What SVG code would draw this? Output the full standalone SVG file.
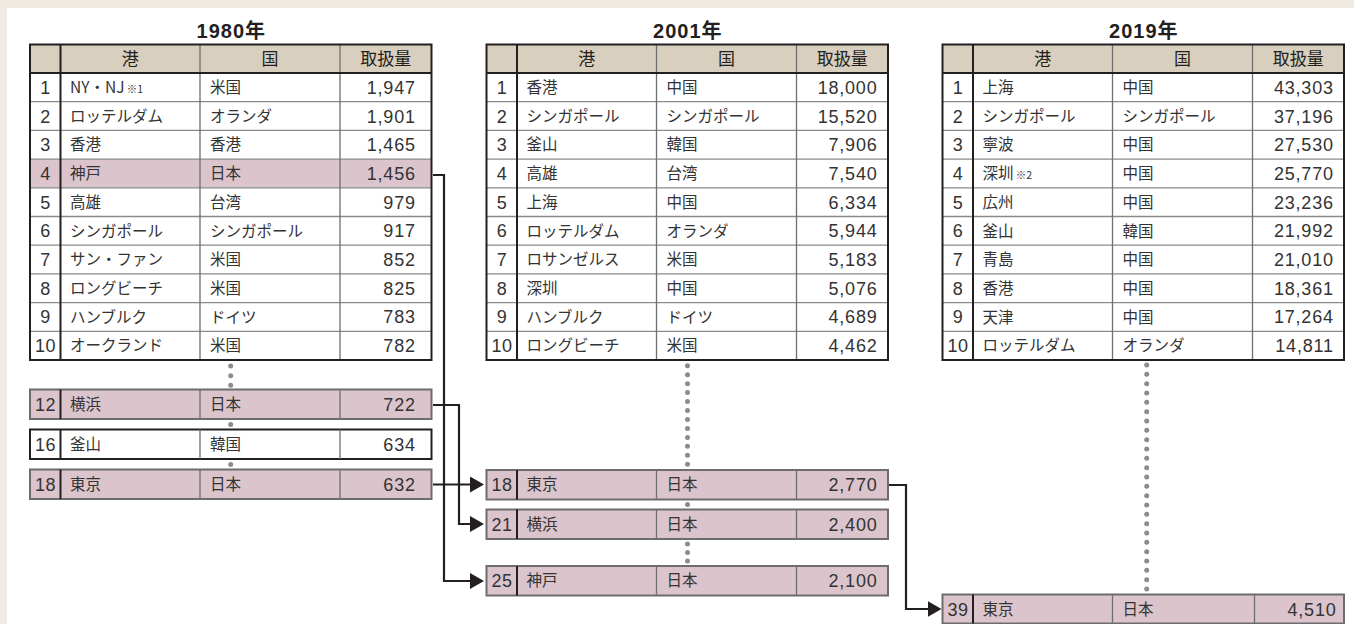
<svg xmlns="http://www.w3.org/2000/svg" width="1354" height="624" viewBox="0 0 1354 624">
<defs>
<style>
.bg{fill:#efebe2}
.panel{fill:#ffffff}
.hdr{fill:#d9cfbf}
.pk{fill:#dbc4cb}
.rl{stroke:#8a8a8a;stroke-width:1.3;fill:none}
.cl{stroke:#6f6f6f;stroke-width:1.3;fill:none}
.dk{stroke:#231f20;stroke-width:2;fill:none}
.frame{fill:none;stroke:#231f20;stroke-width:2}
.pbox{fill:#dbc4cb;stroke:#6d6d6d;stroke-width:2}
.wbox{fill:#ffffff;stroke:#231f20;stroke-width:2}
.ttl{font-family:"Liberation Sans","Noto Sans CJK JP",sans-serif;font-weight:bold;font-size:20px;letter-spacing:1px;fill:#231f20;text-anchor:middle}
.h{font-family:"Noto Sans CJK JP",sans-serif;font-size:17px;fill:#231f20;text-anchor:middle}
.t{font-family:"Noto Sans CJK JP",sans-serif;font-size:15.5px;fill:#333333}
.s{font-size:10.5px}
.n{font-family:"Liberation Sans",sans-serif;font-size:18px;letter-spacing:0.8px;fill:#333333;text-anchor:end}
.r{font-family:"Liberation Sans",sans-serif;font-size:18px;letter-spacing:0.5px;fill:#333333;text-anchor:middle}
.dots{stroke:#8c8c8c;stroke-width:5;stroke-linecap:round;fill:none}
.dot{fill:#8c8c8c}
.con{stroke:#231f20;stroke-width:2.2;fill:none}
</style>
<marker id="ah" markerUnits="userSpaceOnUse" markerWidth="15" markerHeight="16" refX="7" refY="8" orient="auto"><path d="M0,0 L14,8 L0,16 z" fill="#231f20"/></marker>
</defs>

<rect class="bg" x="0" y="0" width="1354" height="624"/>
<rect class="panel" x="7" y="8" width="1347" height="616"/>

<!-- 1980 table -->
<g id="table-1980" transform="translate(30,0)">
<text class="ttl" x="201.3" y="38">1980年</text>
<rect class="hdr" x="0" y="44.5" width="401.5" height="28.5"/>
<rect class="pk" x="0" y="159.1" width="401.5" height="28.7"/>
<path class="rl" d="M0,101.7H401.5M0,130.4H401.5M0,159.1H401.5M0,187.8H401.5M0,216.5H401.5M0,245.2H401.5M0,273.9H401.5M0,302.6H401.5M0,331.3H401.5"/>
<path class="cl" d="M170,44.5V360M310,44.5V360"/>
<path class="dk" d="M0,73H401.5M30.5,44.5V360"/>
<rect class="frame" x="0" y="44.5" width="401.5" height="315.5"/>
<text class="h" x="100.25" y="65">港</text>
<text class="h" x="240" y="65">国</text>
<text class="h" x="355.75" y="65">取扱量</text>
<text class="r" x="15.5" y="93.8">1</text><text class="t" x="40" y="93">NY・NJ<tspan class="s"> ※1</tspan></text><text class="t" x="180" y="93">米国</text><text class="n" x="385.8" y="93.8">1,947</text>
<text class="r" x="15.5" y="122.5">2</text><text class="t" x="40" y="121.7">ロッテルダム</text><text class="t" x="180" y="121.7">オランダ</text><text class="n" x="385.8" y="122.5">1,901</text>
<text class="r" x="15.5" y="151.2">3</text><text class="t" x="40" y="150.4">香港</text><text class="t" x="180" y="150.4">香港</text><text class="n" x="385.8" y="151.2">1,465</text>
<text class="r" x="15.5" y="179.9">4</text><text class="t" x="40" y="179.1">神戸</text><text class="t" x="180" y="179.1">日本</text><text class="n" x="385.8" y="179.9">1,456</text>
<text class="r" x="15.5" y="208.6">5</text><text class="t" x="40" y="207.8">高雄</text><text class="t" x="180" y="207.8">台湾</text><text class="n" x="385.8" y="208.6">979</text>
<text class="r" x="15.5" y="237.3">6</text><text class="t" x="40" y="236.5">シンガポール</text><text class="t" x="180" y="236.5">シンガポール</text><text class="n" x="385.8" y="237.3">917</text>
<text class="r" x="15.5" y="266">7</text><text class="t" x="40" y="265.2">サン・ファン</text><text class="t" x="180" y="265.2">米国</text><text class="n" x="385.8" y="266">852</text>
<text class="r" x="15.5" y="294.7">8</text><text class="t" x="40" y="293.9">ロングビーチ</text><text class="t" x="180" y="293.9">米国</text><text class="n" x="385.8" y="294.7">825</text>
<text class="r" x="15.5" y="323.4">9</text><text class="t" x="40" y="322.6">ハンブルク</text><text class="t" x="180" y="322.6">ドイツ</text><text class="n" x="385.8" y="323.4">783</text>
<text class="r" x="15.5" y="352.1">10</text><text class="t" x="40" y="351.3">オークランド</text><text class="t" x="180" y="351.3">米国</text><text class="n" x="385.8" y="352.1">782</text>
</g>

<g id="box-1980-12" transform="translate(30,389.5)">
<rect class="pbox" x="0" y="0" width="401.5" height="29.5"/>
<path class="cl" d="M170,0V29.5M310,0V29.5"/><path class="dk" d="M30.5,0V29.5"/>
<text class="r" x="15.5" y="21.2">12</text><text class="t" x="40" y="20.4">横浜</text><text class="t" x="180" y="20.4">日本</text><text class="n" x="385.8" y="21.2">722</text>
</g>
<g id="box-1980-16" transform="translate(30,429.5)">
<rect class="wbox" x="0" y="0" width="401.5" height="29.5"/>
<path class="cl" d="M170,0V29.5M310,0V29.5"/><path class="dk" d="M30.5,0V29.5"/>
<text class="r" x="15.5" y="21.2">16</text><text class="t" x="40" y="20.4">釜山</text><text class="t" x="180" y="20.4">韓国</text><text class="n" x="385.8" y="21.2">634</text>
</g>
<g id="box-1980-18" transform="translate(30,469.5)">
<rect class="pbox" x="0" y="0" width="401.5" height="29.5"/>
<path class="cl" d="M170,0V29.5M310,0V29.5"/><path class="dk" d="M30.5,0V29.5"/>
<text class="r" x="15.5" y="21.2">18</text><text class="t" x="40" y="20.4">東京</text><text class="t" x="180" y="20.4">日本</text><text class="n" x="385.8" y="21.2">632</text>
</g>

<!-- 2001 table -->
<g id="table-2001" transform="translate(486.5,0)">
<text class="ttl" x="201.3" y="38">2001年</text>
<rect class="hdr" x="0" y="44.5" width="401.5" height="28.5"/>
<path class="rl" d="M0,101.7H401.5M0,130.4H401.5M0,159.1H401.5M0,187.8H401.5M0,216.5H401.5M0,245.2H401.5M0,273.9H401.5M0,302.6H401.5M0,331.3H401.5"/>
<path class="cl" d="M170,44.5V360M310,44.5V360"/>
<path class="dk" d="M0,73H401.5M30.5,44.5V360"/>
<rect class="frame" x="0" y="44.5" width="401.5" height="315.5"/>
<text class="h" x="100.25" y="65">港</text>
<text class="h" x="240" y="65">国</text>
<text class="h" x="355.75" y="65">取扱量</text>
<text class="r" x="15.5" y="93.8">1</text><text class="t" x="40" y="93">香港</text><text class="t" x="180" y="93">中国</text><text class="n" x="391" y="93.8">18,000</text>
<text class="r" x="15.5" y="122.5">2</text><text class="t" x="40" y="121.7">シンガポール</text><text class="t" x="180" y="121.7">シンガポール</text><text class="n" x="391" y="122.5">15,520</text>
<text class="r" x="15.5" y="151.2">3</text><text class="t" x="40" y="150.4">釜山</text><text class="t" x="180" y="150.4">韓国</text><text class="n" x="391" y="151.2">7,906</text>
<text class="r" x="15.5" y="179.9">4</text><text class="t" x="40" y="179.1">高雄</text><text class="t" x="180" y="179.1">台湾</text><text class="n" x="391" y="179.9">7,540</text>
<text class="r" x="15.5" y="208.6">5</text><text class="t" x="40" y="207.8">上海</text><text class="t" x="180" y="207.8">中国</text><text class="n" x="391" y="208.6">6,334</text>
<text class="r" x="15.5" y="237.3">6</text><text class="t" x="40" y="236.5">ロッテルダム</text><text class="t" x="180" y="236.5">オランダ</text><text class="n" x="391" y="237.3">5,944</text>
<text class="r" x="15.5" y="266">7</text><text class="t" x="40" y="265.2">ロサンゼルス</text><text class="t" x="180" y="265.2">米国</text><text class="n" x="391" y="266">5,183</text>
<text class="r" x="15.5" y="294.7">8</text><text class="t" x="40" y="293.9">深圳</text><text class="t" x="180" y="293.9">中国</text><text class="n" x="391" y="294.7">5,076</text>
<text class="r" x="15.5" y="323.4">9</text><text class="t" x="40" y="322.6">ハンブルク</text><text class="t" x="180" y="322.6">ドイツ</text><text class="n" x="391" y="323.4">4,689</text>
<text class="r" x="15.5" y="352.1">10</text><text class="t" x="40" y="351.3">ロングビーチ</text><text class="t" x="180" y="351.3">米国</text><text class="n" x="391" y="352.1">4,462</text>
</g>

<g id="box-2001-18" transform="translate(486.5,470)">
<rect class="pbox" x="0" y="0" width="401.5" height="29.5"/>
<path class="cl" d="M170,0V29.5M310,0V29.5"/><path class="dk" d="M30.5,0V29.5"/>
<text class="r" x="15.5" y="21.2">18</text><text class="t" x="40" y="20.4">東京</text><text class="t" x="180" y="20.4">日本</text><text class="n" x="391" y="21.2">2,770</text>
</g>
<g id="box-2001-21" transform="translate(486.5,509.5)">
<rect class="pbox" x="0" y="0" width="401.5" height="29.5"/>
<path class="cl" d="M170,0V29.5M310,0V29.5"/><path class="dk" d="M30.5,0V29.5"/>
<text class="r" x="15.5" y="21.2">21</text><text class="t" x="40" y="20.4">横浜</text><text class="t" x="180" y="20.4">日本</text><text class="n" x="391" y="21.2">2,400</text>
</g>
<g id="box-2001-25" transform="translate(486.5,566)">
<rect class="pbox" x="0" y="0" width="401.5" height="29.5"/>
<path class="cl" d="M170,0V29.5M310,0V29.5"/><path class="dk" d="M30.5,0V29.5"/>
<text class="r" x="15.5" y="21.2">25</text><text class="t" x="40" y="20.4">神戸</text><text class="t" x="180" y="20.4">日本</text><text class="n" x="391" y="21.2">2,100</text>
</g>

<!-- 2019 table -->
<g id="table-2019" transform="translate(942.5,0)">
<text class="ttl" x="201.3" y="38">2019年</text>
<rect class="hdr" x="0" y="44.5" width="401.5" height="28.5"/>
<path class="rl" d="M0,101.7H401.5M0,130.4H401.5M0,159.1H401.5M0,187.8H401.5M0,216.5H401.5M0,245.2H401.5M0,273.9H401.5M0,302.6H401.5M0,331.3H401.5"/>
<path class="cl" d="M170,44.5V360M310,44.5V360"/>
<path class="dk" d="M0,73H401.5M30.5,44.5V360"/>
<rect class="frame" x="0" y="44.5" width="401.5" height="315.5"/>
<text class="h" x="100.25" y="65">港</text>
<text class="h" x="240" y="65">国</text>
<text class="h" x="355.75" y="65">取扱量</text>
<text class="r" x="15.5" y="93.8">1</text><text class="t" x="40" y="93">上海</text><text class="t" x="180" y="93">中国</text><text class="n" x="391.3" y="93.8">43,303</text>
<text class="r" x="15.5" y="122.5">2</text><text class="t" x="40" y="121.7">シンガポール</text><text class="t" x="180" y="121.7">シンガポール</text><text class="n" x="391.3" y="122.5">37,196</text>
<text class="r" x="15.5" y="151.2">3</text><text class="t" x="40" y="150.4">寧波</text><text class="t" x="180" y="150.4">中国</text><text class="n" x="391.3" y="151.2">27,530</text>
<text class="r" x="15.5" y="179.9">4</text><text class="t" x="40" y="179.1">深圳<tspan class="s"> ※2</tspan></text><text class="t" x="180" y="179.1">中国</text><text class="n" x="391.3" y="179.9">25,770</text>
<text class="r" x="15.5" y="208.6">5</text><text class="t" x="40" y="207.8">広州</text><text class="t" x="180" y="207.8">中国</text><text class="n" x="391.3" y="208.6">23,236</text>
<text class="r" x="15.5" y="237.3">6</text><text class="t" x="40" y="236.5">釜山</text><text class="t" x="180" y="236.5">韓国</text><text class="n" x="391.3" y="237.3">21,992</text>
<text class="r" x="15.5" y="266">7</text><text class="t" x="40" y="265.2">青島</text><text class="t" x="180" y="265.2">中国</text><text class="n" x="391.3" y="266">21,010</text>
<text class="r" x="15.5" y="294.7">8</text><text class="t" x="40" y="293.9">香港</text><text class="t" x="180" y="293.9">中国</text><text class="n" x="391.3" y="294.7">18,361</text>
<text class="r" x="15.5" y="323.4">9</text><text class="t" x="40" y="322.6">天津</text><text class="t" x="180" y="322.6">中国</text><text class="n" x="391.3" y="323.4">17,264</text>
<text class="r" x="15.5" y="352.1">10</text><text class="t" x="40" y="351.3">ロッテルダム</text><text class="t" x="180" y="351.3">オランダ</text><text class="n" x="391.3" y="352.1">14,811</text>
</g>

<g id="box-2019-39" transform="translate(942.5,594.5)">
<rect class="pbox" x="0" y="0" width="401.5" height="29"/>
<path class="cl" d="M170,0V29M312,0V29"/><path class="dk" d="M30.5,0V29"/>
<text class="r" x="15.5" y="21">39</text><text class="t" x="40" y="20.2">東京</text><text class="t" x="180" y="20.2">日本</text><text class="n" x="394" y="21">4,510</text>
</g>

<!-- omitted-rank dots -->
<g id="dots">
<line class="dots" x1="230.7" y1="366" x2="230.7" y2="385.6" stroke-dasharray="0 9.65"/>
<circle class="dot" cx="230.7" cy="424.5" r="2.5"/>
<circle class="dot" cx="230.7" cy="464.5" r="2.5"/>
<line class="dots" x1="687.5" y1="365.7" x2="687.5" y2="464.8" stroke-dasharray="0 8.9636"/>
<circle class="dot" cx="687.5" cy="504.5" r="2.5"/>
<line class="dots" x1="687.5" y1="544" x2="687.5" y2="561.3" stroke-dasharray="0 8.5"/>
<line class="dots" x1="1146.7" y1="365" x2="1146.7" y2="589.5" stroke-dasharray="0 9.3333"/>
</g>

<!-- connectors -->
<g id="connectors">
<path class="con" d="M433,175 H444 V581 H477" marker-end="url(#ah)"/>
<path class="con" d="M433,405 H459 V524 H477" marker-end="url(#ah)"/>
<path class="con" d="M433,484.5 H477" marker-end="url(#ah)"/>
<path class="con" d="M889,485 H906 V609 H934.5" marker-end="url(#ah)"/>
</g>
</svg>
